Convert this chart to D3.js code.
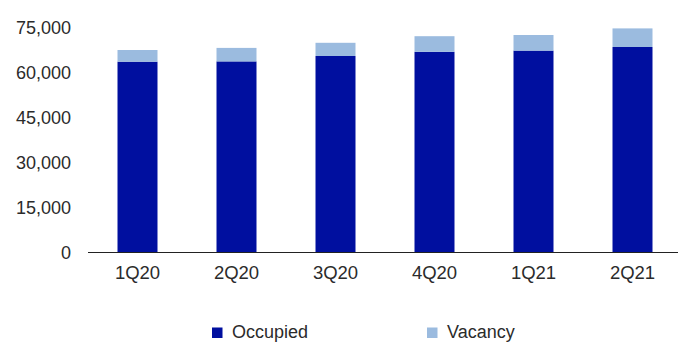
<!DOCTYPE html>
<html><head><meta charset="utf-8">
<script src="https://cdn.jsdelivr.net/npm/d3@7"></script>
<style>html,body{margin:0;padding:0;background:#fff}svg{display:block}</style>
</head><body>
<script>
const categories = ["1Q20","2Q20","3Q20","4Q20","1Q21","2Q21"];
const occupied = [63600, 63700, 65500, 66900, 67300, 68500];
const vacancy  = [3900, 4500, 4400, 5200, 5200, 6200];
const yTicks = [0, 15000, 30000, 45000, 60000, 75000];
const seriesNames = ["Occupied", "Vacancy"];
const colors = ["#000f9f", "#9bbbdf"];

const W = 678, H = 343;
const svg = d3.select("body").append("svg").attr("width", W).attr("height", H);
const font = "'Liberation Sans', Arial, sans-serif";
const textColor = "#2b2b2b";

const x = d3.scaleBand().domain(categories).range([88, 682]).paddingInner(0.596).paddingOuter(0.298);
const y = d3.scaleLinear().domain([0, 75000]).range([252.5, 27.5]);

const data = categories.map((c, i) => ({cat: c, Occupied: occupied[i], Vacancy: vacancy[i]}));
const stack = d3.stack().keys(seriesNames)(data);

svg.append("g").selectAll("g").data(stack).join("g")
  .attr("fill", (d, i) => colors[i])
  .selectAll("rect").data(d => d).join("rect")
  .attr("x", d => x(d.data.cat))
  .attr("width", x.bandwidth())
  .attr("y", d => y(d[1]))
  .attr("height", d => y(d[0]) - y(d[1]));

// y axis labels
const yAxis = d3.axisLeft(y).tickValues(yTicks).tickSize(0).tickPadding(0).tickFormat(d3.format(","));
const gy = svg.append("g").attr("transform", "translate(71,0)").call(yAxis);
gy.select(".domain").remove();
gy.selectAll("text").attr("font-family", font).attr("font-size", 18).attr("fill", textColor);

// x axis
const xAxis = d3.axisBottom(x).tickSize(0).tickPadding(13);
const gx = svg.append("g").attr("transform", "translate(0,252.5)").call(xAxis);
gx.select(".domain").attr("stroke", "#222").attr("d", "M88,0H678");
gx.selectAll("text").attr("font-family", font).attr("font-size", 18.5).attr("fill", textColor);

// legend
const legX = [212, 427];
const leg = svg.append("g");
seriesNames.forEach((n, i) => {
  leg.append("rect").attr("x", legX[i]).attr("y", 327.5).attr("width", 10.5).attr("height", 10.5).attr("fill", colors[i]);
  leg.append("text").attr("x", legX[i] + 20).attr("y", 338)
    .attr("font-family", font).attr("font-size", 18).attr("fill", textColor).text(n);
});
</script>
</body></html>
